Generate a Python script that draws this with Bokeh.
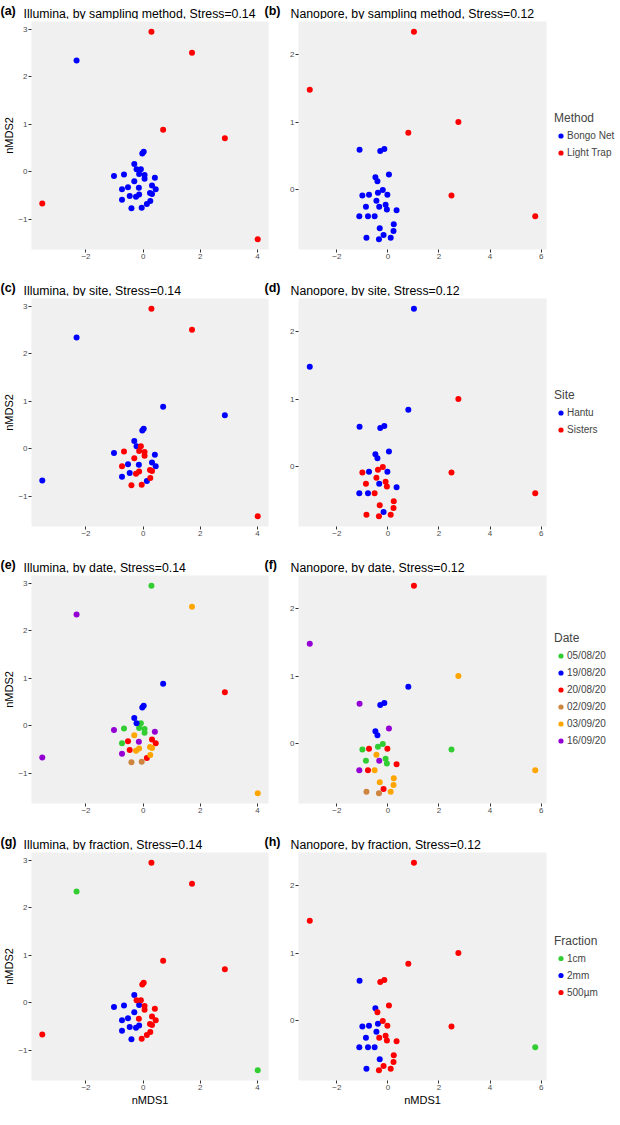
from bokeh.plotting import figure
from bokeh.models import Range1d, FixedTicker, Legend, LegendItem
from bokeh.core.properties import value
from bokeh.layouts import column, row
from bokeh.embed import file_html
from bokeh.resources import INLINE

# ---------------- data ----------------
ill_x = [-2.33, 0.29, 1.71, 0.70, 2.86, -3.53, 4.01,
         0.02, -0.03, -0.31, -0.23, -0.08, -0.14, 0.05, 0.05, -1.02, -0.67,
         0.41, -0.31, 0.31, -0.53, -0.15, 0.44, -0.74, 0.24, 0.31, -0.14,
         -0.47, -0.25, -0.74, 0.25, 0.13, -0.41, -0.05]
ill_y = [2.34, 2.94, 2.50, 0.88, 0.70, -0.67, -1.42,
         0.42, 0.38, 0.16, 0.05, 0.05, -0.05, -0.07, -0.15, -0.09, -0.06,
         -0.13, -0.20, -0.29, -0.33, -0.34, -0.37, -0.37, -0.45, -0.47, -0.48,
         -0.51, -0.53, -0.59, -0.62, -0.68, -0.77, -0.76]
ill_method = ["B", "L", "L", "L", "L", "L", "L",
              "B", "B", "B", "B", "B", "B", "B", "B", "B", "B",
              "B", "B", "B", "B", "B", "B", "B", "B", "B", "B",
              "B", "B", "B", "B", "B", "B", "B"]
ill_site = ["H", "S", "S", "H", "H", "H", "S",
            "H", "H", "H", "H", "S", "S", "S", "S", "H", "S",
            "H", "S", "H", "H", "H", "H", "S", "S", "S", "S",
            "H", "S", "H", "S", "H", "S", "S"]
ill_date = ["16/09/20", "05/08/20", "03/09/20", "19/08/20", "20/08/20", "16/09/20", "03/09/20",
            "19/08/20", "19/08/20", "19/08/20", "19/08/20", "05/08/20", "05/08/20", "05/08/20",
            "05/08/20", "16/09/20", "05/08/20", "16/09/20", "03/09/20", "20/08/20", "20/08/20",
            "16/09/20", "20/08/20", "05/08/20", "03/09/20", "03/09/20", "03/09/20", "20/08/20",
            "03/09/20", "16/09/20", "03/09/20", "20/08/20", "02/09/20", "02/09/20"]
ill_frac = ["1cm", "500µm", "500µm", "500µm", "500µm", "500µm", "1cm",
            "500µm", "500µm", "2mm", "500µm", "500µm", "2mm", "500µm", "500µm", "2mm", "2mm",
            "500µm", "2mm", "500µm", "2mm", "500µm", "500µm", "2mm", "500µm", "500µm", "2mm",
            "2mm", "2mm", "2mm", "500µm", "500µm", "2mm", "500µm"]

nano_x = [1.02, -3.06, 2.76, 0.80, 2.49, 5.77,
          -1.11, -0.30, -0.14, 0.04, -0.49, -0.41, -0.20, -0.39, -1.00, -0.74,
          -0.02, -0.45, -0.86, -0.34, -0.09, -0.04, 0.34, -1.12, -0.78, -0.52,
          0.23, -0.32, 0.22, -0.17, -0.84, -0.35, 0.11]
nano_y = [2.34, 1.48, 1.00, 0.84, -0.09, -0.40,
          0.59, 0.57, 0.60, 0.22, 0.18, 0.12, -0.01, -0.05, -0.09, -0.08,
          -0.08, -0.17, -0.26, -0.26, -0.23, -0.30, -0.31, -0.40, -0.40, -0.40,
          -0.52, -0.58, -0.62, -0.68, -0.72, -0.74, -0.72]
nano_method = ["L", "L", "L", "L", "L", "L",
               "B", "B", "B", "B", "B", "B", "B", "B", "B", "B",
               "B", "B", "B", "B", "B", "B", "B", "B", "B", "B",
               "B", "B", "B", "B", "B", "B", "B"]
nano_site = ["H", "H", "S", "H", "S", "S",
             "H", "H", "H", "H", "H", "H", "S", "S", "S", "H",
             "H", "S", "S", "H", "S", "S", "H", "H", "H", "S",
             "S", "S", "S", "H", "S", "S", "S"]
nano_date = ["20/08/20", "16/09/20", "03/09/20", "19/08/20", "05/08/20", "03/09/20",
             "16/09/20", "19/08/20", "19/08/20", "16/09/20", "19/08/20", "19/08/20", "05/08/20",
             "05/08/20", "05/08/20", "20/08/20", "20/08/20", "03/09/20", "05/08/20", "16/09/20",
             "05/08/20", "05/08/20", "20/08/20", "16/09/20", "20/08/20", "03/09/20", "03/09/20",
             "03/09/20", "03/09/20", "20/08/20", "02/09/20", "02/09/20", "03/09/20"]
nano_frac = ["500µm", "500µm", "500µm", "500µm", "500µm", "1cm",
             "2mm", "500µm", "500µm", "500µm", "2mm", "500µm", "500µm", "2mm", "2mm", "2mm",
             "500µm", "2mm", "2mm", "500µm", "500µm", "500µm", "500µm", "2mm", "2mm", "2mm",
             "500µm", "2mm", "500µm", "500µm", "2mm", "500µm", "500µm"]

method_codes = {"B": "Bongo Net", "L": "Light Trap"}
site_codes = {"H": "Hantu", "S": "Sisters"}

method_cats = ["Bongo Net", "Light Trap"]
site_cats = ["Hantu", "Sisters"]
date_cats = ["05/08/20", "19/08/20", "20/08/20", "02/09/20", "03/09/20", "16/09/20"]
frac_cats = ["1cm", "2mm", "500µm"]

method_cols = ["#0000FF", "#FF0000"]
site_cols = ["#0000FF", "#FF0000"]
date_cols = ["#32CD32", "#0000FF", "#FF0000", "#CD853F", "#FFA500", "#9400D3"]
frac_cols = ["#32CD32", "#0000FF", "#FF0000"]

ill_xticks = [-2, 0, 2, 4]
ill_yticks = [-1, 0, 1, 2, 3]
nano_xticks = [-2, 0, 2, 4, 6]
nano_yticks = [0, 1, 2]

FONT = "Liberation Sans"
FH = 228
HH = 19
# layout geometry (px): left figure = LB + LFW + LR, right figure = RB + RFW + RR
LB, LFW, LR = 23, 237, 2
RB, RFW, RR = 28, 248, 66
TOTAL_W = LB + LFW + LR + RB + RFW + RR


def expand(vals):
    lo, hi = min(vals), max(vals)
    pad = 0.05 * (hi - lo)
    return Range1d(lo - pad, hi + pad)


def header(tags, titles):
    h = figure(width=TOTAL_W, height=HH, x_range=Range1d(0, TOTAL_W),
               y_range=Range1d(0, HH), output_backend="svg",
               toolbar_location=None, x_axis_type=None, y_axis_type=None,
               min_border=0, outline_line_color=None,
               background_fill_color="white", border_fill_color="white")
    h.grid.visible = False
    left0 = LB + LFW + LR
    tag_x = [0, left0 + 2]
    title_x = [LB, left0 + RB]
    h.text(x=tag_x, y=[8.5, 8.5], text=tags, text_font=value(FONT),
           text_font_size="12.5px", text_font_style="bold",
           text_color="black", text_baseline="alphabetic", text_align="left")
    h.text(x=title_x, y=[6, 6], text=titles, text_font=value(FONT),
           text_font_size="12.3px", text_font_style="normal",
           text_color="black", text_baseline="alphabetic", text_align="left")
    return h


def panel(colidx, xs, ys, groups, cats, cols, legend_title, last_row):
    if colidx == 0:
        fw, xt, yt, mbl, mbr = LFW, ill_xticks, ill_yticks, LB, LR
    else:
        fw, xt, yt, mbl, mbr = RFW, nano_xticks, nano_yticks, RB, RR
    p = figure(frame_width=fw, frame_height=FH,
               x_range=expand(xs), y_range=expand(ys),
               output_backend="svg", toolbar_location=None,
               min_border_left=mbl, min_border_right=mbr,
               min_border_top=2, min_border_bottom=28,
               background_fill_color="#F0F0F0", border_fill_color="white",
               outline_line_color=None)
    p.grid.visible = False

    for ax in (p.xaxis[0], p.yaxis[0]):
        ax.axis_line_color = None
        ax.major_tick_out = 3
        ax.major_tick_in = 0
        ax.minor_tick_out = 0
        ax.minor_tick_in = 0
        ax.major_tick_line_color = "#333333"
        ax.major_label_text_color = "#4D4D4D"
        ax.major_label_text_font = FONT
        ax.major_label_text_font_size = "8px"
        ax.major_label_standoff = 1
        ax.axis_label_text_font = FONT
        ax.axis_label_text_font_size = "11px"
        ax.axis_label_text_font_style = "normal"
        ax.axis_label_text_color = "black"
        ax.axis_label_standoff = 1
    p.xaxis.ticker = FixedTicker(ticks=xt)
    p.yaxis.ticker = FixedTicker(ticks=yt)
    if colidx == 0:
        p.yaxis.axis_label = "nMDS2"
        p.yaxis.axis_label_standoff = 0
    if last_row:
        p.xaxis.axis_label = "nMDS1"

    items = []
    for cat, c in zip(cats, cols):
        idx = [i for i, g in enumerate(groups) if g == cat]
        r = p.scatter(x=[xs[i] for i in idx], y=[ys[i] for i in idx],
                      size=6, marker="circle", fill_color=c, line_color=None)
        items.append(LegendItem(label=cat, renderers=[r]))

    if colidx == 1:
        lg = Legend(items=items, location="center_left", title=legend_title,
                    title_text_font=FONT, title_text_font_size="12px",
                    title_text_font_style="normal", title_standoff=4,
                    label_text_font=FONT, label_text_font_size="10px",
                    glyph_width=13, glyph_height=13, label_height=13,
                    label_standoff=0, spacing=4, padding=0, margin=8,
                    border_line_color=None, background_fill_alpha=0)
        p.add_layout(lg, "right")
    return p


ill_m = [method_codes[v] for v in ill_method]
nano_m = [method_codes[v] for v in nano_method]
ill_s = [site_codes[v] for v in ill_site]
nano_s = [site_codes[v] for v in nano_site]

rows = [
    (["(a)", "(b)"],
     ["Illumina, by sampling method, Stress=0.14", "Nanopore, by sampling method, Stress=0.12"],
     ill_m, nano_m, method_cats, method_cols, "Method"),
    (["(c)", "(d)"],
     ["Illumina, by site, Stress=0.14", "Nanopore, by site, Stress=0.12"],
     ill_s, nano_s, site_cats, site_cols, "Site"),
    (["(e)", "(f)"],
     ["Illumina, by date, Stress=0.14", "Nanopore, by date, Stress=0.12"],
     ill_date, nano_date, date_cats, date_cols, "Date"),
    (["(g)", "(h)"],
     ["Illumina, by fraction, Stress=0.14", "Nanopore, by fraction, Stress=0.12"],
     ill_frac, nano_frac, frac_cats, frac_cols, "Fraction"),
]

children = []
for k, (tags, titles, gl, gr, cats, cols, ltitle) in enumerate(rows):
    last = k == len(rows) - 1
    children.append(header(tags, titles))
    pl = panel(0, ill_x, ill_y, gl, cats, cols, ltitle, last)
    pr = panel(1, nano_x, nano_y, gr, cats, cols, ltitle, last)
    children.append(row(pl, pr))

p = column(*children)
open("out.html", "w").write(file_html(p, INLINE))
